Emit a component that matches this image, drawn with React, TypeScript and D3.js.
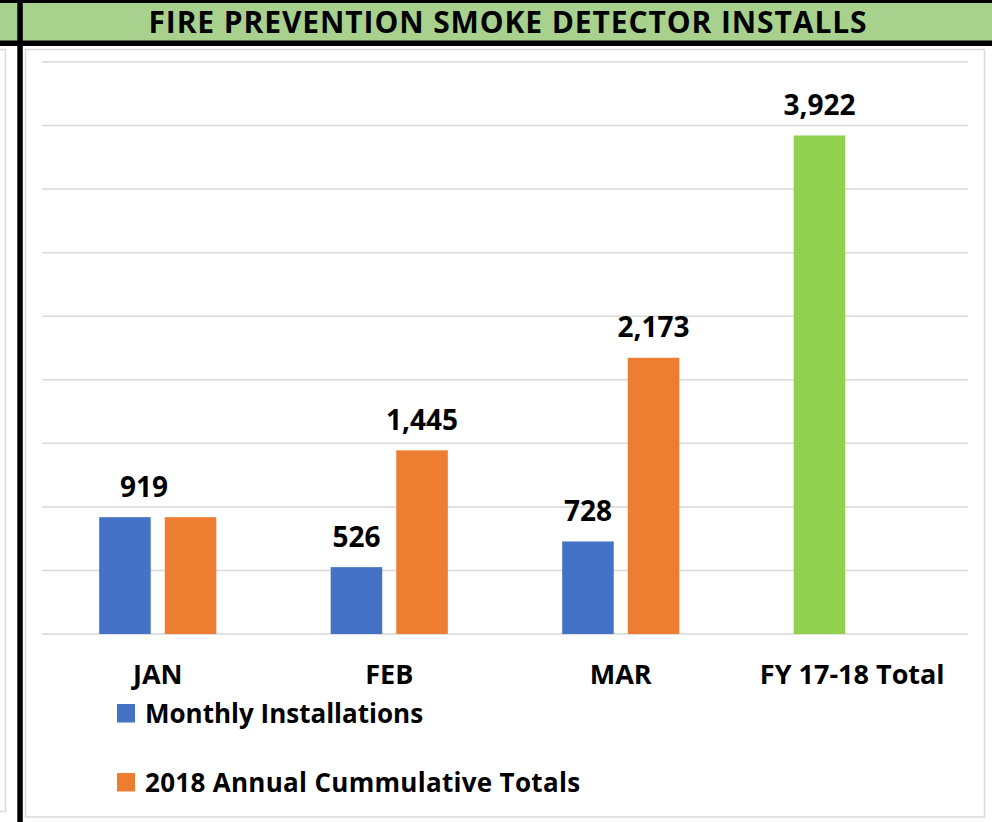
import React, { useEffect, useRef } from 'react';
import * as d3 from 'd3';

const categories = ['JAN', 'FEB', 'MAR', 'FY 17-18 Total'];
const monthlyInstalls = [919, 526, 728, 3922];
const cumulativeTotals = [919, 1445, 2173, null];
const seriesNames = ['Monthly Installations', '2018 Annual Cummulative Totals'];
const yTicks = [0, 500, 1000, 1500, 2000, 2500, 3000, 3500, 4000, 4500];
// which data labels Excel kept visible
const showMonthlyLabel = [true, true, true, true];
const showCumulLabel = [false, true, true, false];

const W = 992;
const H = 822;
const FONT = '"Open Sans", "Liberation Sans", sans-serif';

const App = () => {
  const ref = useRef(null);

  useEffect(() => {
    document.body.style.margin = '0';
    const svg = d3.select(ref.current);
    svg.selectAll('*').remove();

    svg.append('rect').attr('width', W).attr('height', H).attr('fill', '#fff');

    // title bar
    svg.append('rect').attr('x', 0).attr('y', 0).attr('width', W).attr('height', 41).attr('fill', '#A9D18E');
    svg.append('rect').attr('x', 0).attr('y', 0).attr('width', W).attr('height', 3).attr('fill', '#000');
    svg.append('rect').attr('x', 0).attr('y', 40.5).attr('width', W).attr('height', 5.5).attr('fill', '#000');
    svg.append('rect').attr('x', 17.3).attr('y', 0).attr('width', 5.5).attr('height', H).attr('fill', '#000');
    svg.append('text')
      .attr('x', 508)
      .attr('y', 33)
      .attr('text-anchor', 'middle')
      .attr('font-family', FONT)
      .attr('font-weight', 700)
      .attr('font-size', 30)
      .attr('letter-spacing', 0.9)
      .attr('fill', '#000')
      .text('FIRE PREVENTION SMOKE DETECTOR INSTALLS');

    // left neighbour panel + chart frame
    svg.append('path')
      .attr('d', 'M0,49.5 H5.5 V811.5 H0')
      .attr('fill', 'none').attr('stroke', '#D9D9D9').attr('stroke-width', 1.5);
    svg.append('rect')
      .attr('x', 25.5).attr('y', 49.5).attr('width', 959).attr('height', 767.5)
      .attr('fill', 'none').attr('stroke', '#D9D9D9').attr('stroke-width', 1.5);

    const left = 42, right = 968, top = 62, bottom = 634;

    const y = d3.scaleLinear().domain([0, 4500]).range([bottom, top]);
    const x0 = d3.scaleBand().domain(categories).range([left, right])
      .paddingInner(0.494).paddingOuter(0.247);
    const x1 = d3.scaleBand().domain(['m', 'c']).range([0, x0.bandwidth()])
      .paddingInner(0.214).paddingOuter(0);

    // gridlines
    svg.append('g').selectAll('line')
      .data(yTicks)
      .enter()
      .append('line')
      .attr('x1', left).attr('x2', right)
      .attr('y1', d => y(d)).attr('y2', d => y(d))
      .attr('stroke', '#D9D9D9')
      .attr('stroke-width', 1.5);

    const color = (s, i) => {
      if (s === 'c') return '#ED7D31';
      return categories[i] === 'FY 17-18 Total' ? '#92D050' : '#4472C4';
    };

    const bars = [];
    categories.forEach((c, i) => {
      bars.push({ cat: c, i, s: 'm', v: monthlyInstalls[i], show: showMonthlyLabel[i] });
      if (cumulativeTotals[i] != null) {
        bars.push({ cat: c, i, s: 'c', v: cumulativeTotals[i], show: showCumulLabel[i] });
      }
    });

    svg.append('g').selectAll('rect')
      .data(bars)
      .enter()
      .append('rect')
      .attr('x', d => x0(d.cat) + x1(d.s))
      .attr('y', d => y(d.v))
      .attr('width', x1.bandwidth())
      .attr('height', d => bottom - y(d.v))
      .attr('fill', d => color(d.s, d.i));

    // value labels (JAN label was dragged between the two bars)
    svg.append('g').selectAll('text')
      .data(bars.filter(d => d.show))
      .enter()
      .append('text')
      .attr('x', d => x0(d.cat) + x1(d.s) + x1.bandwidth() / 2 + (d.cat === 'JAN' ? 19 : 0))
      .attr('y', d => y(d.v) - 20.5)
      .attr('text-anchor', 'middle')
      .attr('font-family', FONT)
      .attr('font-weight', 700)
      .attr('font-size', 28)
      .attr('fill', '#000')
      .text(d => d3.format(',')(d.v));

    // category labels
    svg.append('g').selectAll('text')
      .data(categories)
      .enter()
      .append('text')
      .attr('x', d => x0(d) + x0.bandwidth() / 2)
      .attr('y', 684)
      .attr('text-anchor', 'middle')
      .attr('font-family', FONT)
      .attr('font-weight', 700)
      .attr('font-size', 27)
      .attr('fill', '#000')
      .text(d => d);

    // legend
    const legend = svg.append('g').selectAll('g')
      .data(seriesNames)
      .enter()
      .append('g')
      .attr('transform', (d, i) => `translate(117, ${704 + i * 69})`);
    legend.append('rect')
      .attr('width', 18).attr('height', 18.5)
      .attr('fill', (d, i) => (i === 0 ? '#4472C4' : '#ED7D31'));
    legend.append('text')
      .attr('x', 28)
      .attr('y', 18.5)
      .attr('font-family', FONT)
      .attr('font-weight', 700)
      .attr('font-size', 26)
      .attr('letter-spacing', (d, i) => (i === 1 ? 0.3 : 0))
      .attr('fill', '#000')
      .text(d => d);
  }, []);

  return (
    <div style={{ width: W, height: H }}>
      <svg ref={ref} width={W} height={H} style={{ display: 'block' }}></svg>
    </div>
  );
};

export default App;
